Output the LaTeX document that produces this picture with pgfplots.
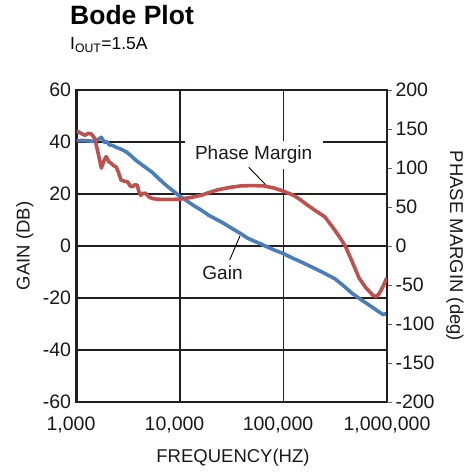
\documentclass[border=0pt]{standalone}
\usepackage{pgfplots}
\pgfplotsset{compat=1.18}
\usepackage{fontspec}
\setmainfont{Liberation Sans}
\definecolor{gainblue}{RGB}{74,126,187}
\definecolor{phasered}{RGB}{192,80,77}
\definecolor{framec}{RGB}{35,31,32}

\pgfplotstableread{
f db
1000 40.5
1150 40.6
1343 40.4
1500 40.3
1620 41.0
1737 41.8
1800 40.8
1867 39.8
1950 40.2
2082 38.9
2250 38.6
2410 38.0
2700 37.2
3000 36.3
3350 34.8
3735 33.0
4300 31.2
4800 29.8
5370 28.4
6200 26.0
6900 24.3
7745 22.6
8700 21.0
9840 19.3
11500 17.5
13500 15.6
16030 13.8
19000 11.8
23100 10.0
27000 8.5
32000 6.7
38450 4.8
45000 3.0
52000 1.9
59600 0.9
70000 -0.4
82000 -1.6
99400 -2.9
120000 -4.5
145500 -6.0
175000 -7.5
213800 -9.2
260000 -10.9
314000 -12.6
380000 -15.3
460300 -18.2
560000 -20.6
676000 -22.8
800000 -24.8
918000 -26.4
993000 -25.9
}\gaintable

\pgfplotstableread{
f deg
1000 147
1040 146.5
1120 144
1205 142
1300 144.5
1394 143.6
1499 138
1600 122
1737 100
1850 110
1937 114.6
2050 108
2161 106
2280 103
2410 101.7
2550 94
2692 84.6
2900 83
3106 82.5
3300 77
3467 76
3650 78.5
3867 78
4000 70
4166 65
4400 67.5
4647 67.6
5000 63
5370 61
6000 60
6683 59.8
8000 59.7
9630 60
12500 62
16030 65
19000 68.5
23100 72
30000 75
38450 77
50000 77.5
64100 77
80000 74.5
99400 70.5
125000 65
145000 59.5
169800 52.6
205000 45
249500 37.6
280000 29
314000 20
350000 11
395000 0
460000 -20
537000 -41
620000 -53
729000 -63
789000 -65
850000 -60
920000 -51
993000 -41
}\phasetable

\begin{document}
\begin{tikzpicture}
\useasboundingbox (-76.5pt,-70pt) rectangle (393.5pt,402pt);
\node[anchor=base west, inner sep=0pt, font=\fontsize{26.5}{26.5}\selectfont\bfseries] at (-6.5pt,377pt) {Bode Plot};
\node[anchor=base west, inner sep=0pt, font=\fontsize{17.5}{17.5}\selectfont] at (-6.5pt,352pt) {I\textsubscript{OUT}=1.5A};
\begin{axis}[at={(0,0)}, anchor=south west, scale only axis,
  width=310.5pt, height=312pt,
  xmode=log, xmin=1000, xmax=1000000, ymin=-60, ymax=60,
  xtick={1000,10000,100000,1000000},
  xticklabels={{1,000},{10,000},{100,000},{\hspace*{11pt}1,000,000}},
  ytick={-60,-40,...,60}, xminorticks=false,
  grid=major, major grid style={line width=1.2pt, framec},
  axis line style={line width=2.2pt, framec},
  major tick length=0pt,
  /pgf/number format/assume math mode=true,
  tick label style={font=\fontsize{19.5}{19.5}\selectfont, text=black!90},
  yticklabel style={xshift=-2pt},
  xticklabel style={yshift=-11pt, xshift=-5.5pt},
  label style={font=\fontsize{18.5}{18.5}\selectfont, text=black!90},
  xlabel={FREQUENCY(HZ)}, ylabel={GAIN (DB)},
  xlabel style={at={(axis description cs:0.504,-0.178)}, anchor=center},
  ylabel style={at={(axis description cs:-0.166,0.5)}, anchor=center},
]
\addplot[gainblue, line width=3.6pt, line join=round] table[x=f, y=db] {\gaintable};
\node[anchor=base, fill=white, inner xsep=10.5pt, inner ysep=5pt, font=\fontsize{19}{19}\selectfont, text=black!90] at (axis cs:51500,33.08) {Phase Margin};
\draw[black, line width=0.9pt] (axis cs:46200,30.27) -- (axis cs:68950,23.08);
\node[anchor=base, inner sep=0pt, font=\fontsize{19}{19}\selectfont, text=black!90] at (axis cs:25750,-12.7) {Gain};
\draw[black, line width=0.9pt] (axis cs:37950,3.85) -- (axis cs:30200,-5.38);
\end{axis}
\begin{axis}[at={(0,0)}, anchor=south west, scale only axis,
  width=310.5pt, height=312pt,
  xmode=log, xmin=1000, xmax=1000000, ymin=-200, ymax=200,
  axis y line*=right, axis x line=none,
  ytick={-200,-150,...,200},
  tick align=outside, major tick length=5pt,
  tick style={line width=0.8pt, black!60},
  axis line style={line width=2.2pt, framec},
  /pgf/number format/assume math mode=true,
  tick label style={font=\fontsize{19.5}{19.5}\selectfont, text=black!90},
  label style={font=\fontsize{18.5}{18.5}\selectfont, text=black!90},
  ylabel={PHASE MARGIN (deg)},
  ylabel style={at={(axis description cs:1.219,0.5)}, anchor=center, rotate=180},
]
\addplot[phasered, line width=3.6pt, line join=round] table[x=f, y=deg] {\phasetable};
\end{axis}
\end{tikzpicture}
\end{document}
